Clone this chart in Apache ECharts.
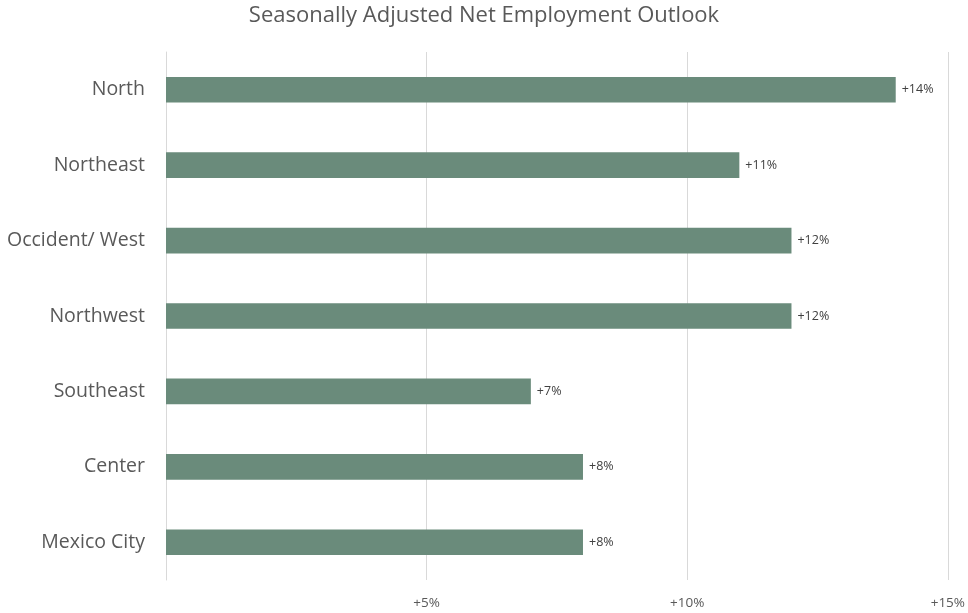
<!DOCTYPE html>
<html><head><meta charset="utf-8">
<script src="https://cdn.jsdelivr.net/npm/echarts@6/dist/echarts.min.js"></script>
<style>html,body{margin:0;padding:0;background:#fff}#c{width:968px;height:613px}</style>
</head><body><div id="c"></div>
<script>
const titleText = 'Seasonally Adjusted Net Employment Outlook';
const categories = ['North','Northeast','Occident/ West','Northwest','Southeast','Center','Mexico City'];
const values = [14, 11, 12, 12, 7, 8, 8];
const chart = echarts.init(document.getElementById('c'));
const font = '"Open Sans", "Noto Sans", sans-serif';
chart.setOption({
  animation:false,
  title:{text:titleText,left:'center',top:0,textStyle:{fontFamily:font,fontSize:22,fontWeight:'normal',color:'#595959'}},
  grid:{left:166,right:18,top:52,bottom:33,containLabel:false},
  xAxis:{type:'value',min:0,max:15,interval:5,
    axisLine:{show:false},axisTick:{show:false},
    splitLine:{show:true,lineStyle:{color:'#d9d9d9',width:1}},
    axisLabel:{margin:16,fontFamily:font,fontSize:13.5,color:'#595959',formatter:v=>v===0?'':'+'+v+'%'}},
  yAxis:{type:'category',data:categories,inverse:true,
    axisLine:{show:true,lineStyle:{color:'#d9d9d9'}},axisTick:{show:false},
    axisLabel:{margin:21,fontFamily:font,fontSize:19.5,color:'#595959'}},
  series:[{type:'bar',data:values,barWidth:'34%',itemStyle:{color:'#6a8b7b'},
    label:{show:true,position:'right',distance:6,fontFamily:font,fontSize:12.5,color:'#404040',formatter:p=>'+'+p.value+'%'}}]
});
</script></body></html>
